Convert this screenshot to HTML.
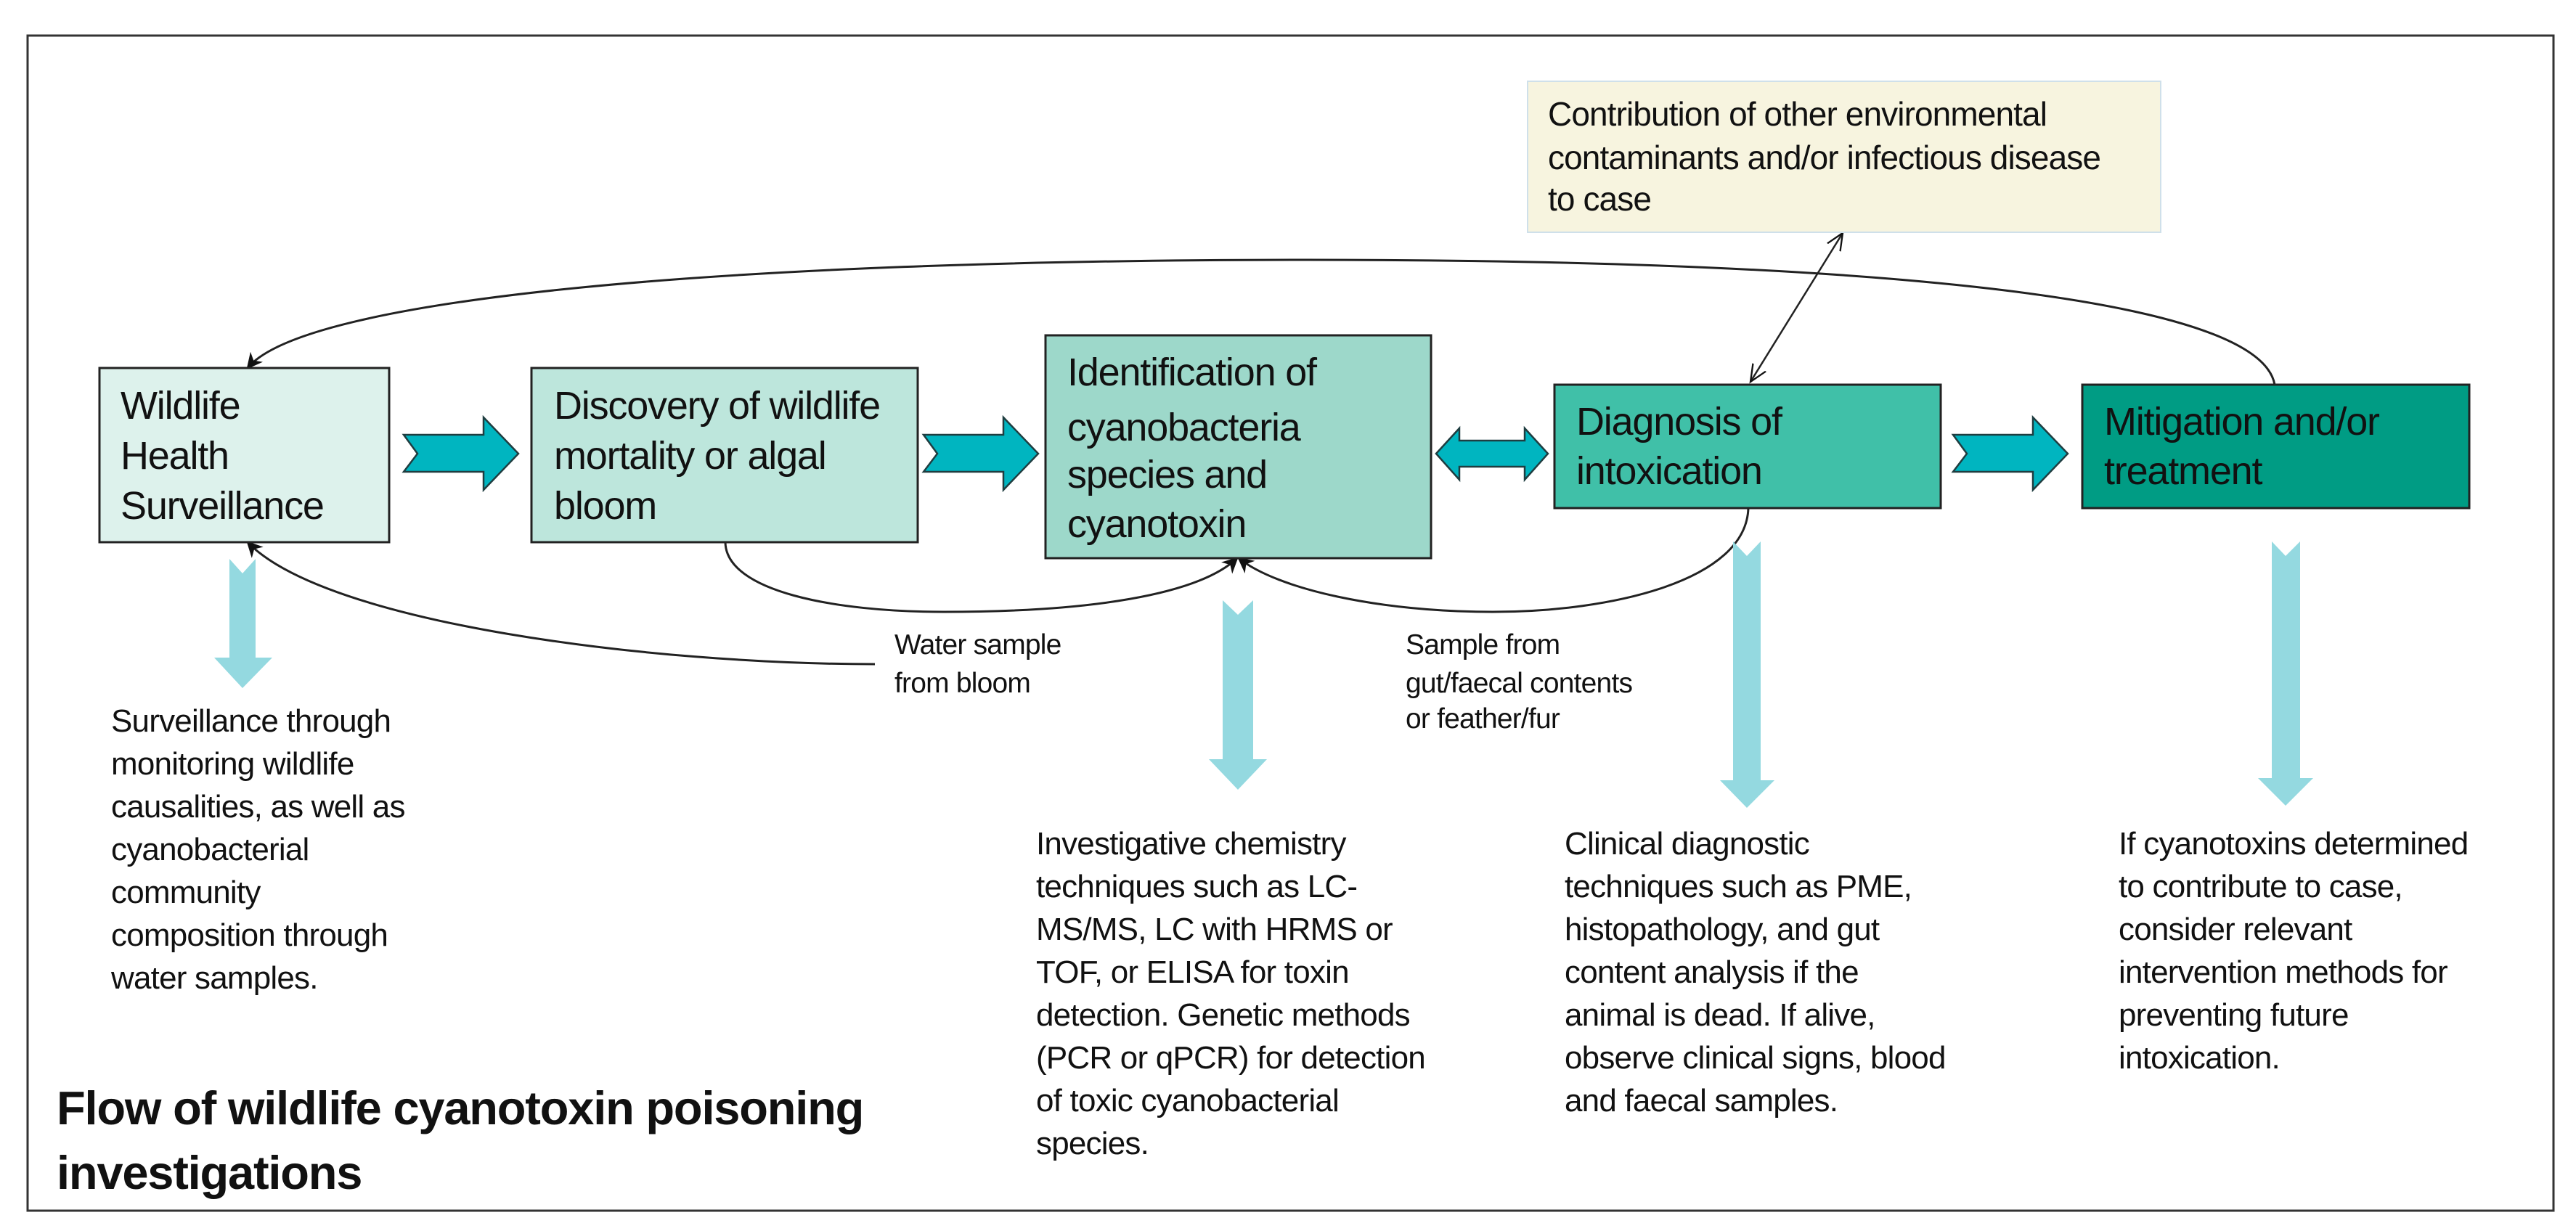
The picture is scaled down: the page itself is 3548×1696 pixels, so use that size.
<!DOCTYPE html>
<html><head><meta charset="utf-8"><style>
html,body{margin:0;padding:0;background:#fff}
svg{display:block}
text{font-family:"Liberation Sans",sans-serif;fill:#111}
.b{font-size:54px;letter-spacing:-1.2px}
.t{font-size:44px;letter-spacing:-0.8px}
.y{font-size:46px;letter-spacing:-0.9px}
.l{font-size:39px;letter-spacing:-0.8px}
.h{font-size:65px;font-weight:bold;letter-spacing:-1.2px}
</style></head><body>
<svg width="3548" height="1696" viewBox="0 0 3548 1696" xmlns="http://www.w3.org/2000/svg">
<defs>
<marker id="ah" viewBox="0 0 10 10" refX="9" refY="5" markerWidth="22" markerHeight="22" markerUnits="userSpaceOnUse" orient="auto"><path d="M0,0 L10,5 L0,10 L3,5 z" fill="#111"/></marker>
<marker id="oh" viewBox="0 0 10 10" refX="9" refY="5" markerWidth="26" markerHeight="26" markerUnits="userSpaceOnUse" orient="auto-start-reverse"><path d="M0,1 L9,5 L0,9" fill="none" stroke="#111" stroke-width="0.9"/></marker>
</defs>
<rect x="38" y="49" width="3479" height="1619" fill="#fff" stroke="#333" stroke-width="3"/>

<g fill="none" stroke="#222" stroke-width="3">
<path d="M3133 530 C3110 400 2500 358 1800 358 C1000 358 420 410 341 507" marker-end="url(#ah)"/>
<path d="M999 747 C1000 815 1150 843 1300 843 C1500 843 1650 820 1704 769" marker-end="url(#ah)"/>
<path d="M2408 700 C2405 800 2220 843 2056 843 C1900 843 1760 812 1706 769" marker-end="url(#ah)"/>
<path d="M1205 915 C900 915 450 860 341 747" marker-end="url(#ah)"/>
</g>
<line x1="2411" y1="526" x2="2538" y2="321" stroke="#222" stroke-width="2.5" marker-start="url(#oh)" marker-end="url(#oh)"/>

<rect x="2104" y="112" width="872" height="208" fill="#f7f4df" stroke="#cfe0ea" stroke-width="2"/>
<text class="y" x="2132" y="173">Contribution of other environmental</text>
<text class="y" x="2132" y="233">contaminants and/or infectious disease</text>
<text class="y" x="2132" y="290">to case</text>

<g stroke="#222" stroke-width="3">
<rect x="137" y="507" width="399" height="240" fill="#ddf2ec"/>
<rect x="732" y="507" width="532" height="240" fill="#bde6dc"/>
<rect x="1440" y="462" width="531" height="307" fill="#9dd8ca"/>
<rect x="2141" y="530" width="532" height="170" fill="#40c0a8"/>
<rect x="2868" y="530" width="533" height="170" fill="#009c84"/>
</g>
<text class="b" x="166" y="577">Wildlife</text>
<text class="b" x="166" y="646">Health</text>
<text class="b" x="166" y="715">Surveillance</text>
<text class="b" x="763" y="577">Discovery of wildlife</text>
<text class="b" x="763" y="646">mortality or algal</text>
<text class="b" x="763" y="715">bloom</text>
<text class="b" x="1470" y="531">Identification of</text>
<text class="b" x="1470" y="607">cyanobacteria</text>
<text class="b" x="1470" y="672">species and</text>
<text class="b" x="1470" y="740">cyanotoxin</text>
<text class="b" x="2171" y="599">Diagnosis of</text>
<text class="b" x="2171" y="667">intoxication</text>
<text class="b" x="2898" y="599">Mitigation and/or</text>
<text class="b" x="2898" y="667">treatment</text>

<g fill="#00b5c0" stroke="#1f3d40" stroke-width="2.5" stroke-linejoin="miter">
<polygon points="556,599 666,599 666,575 714,625 666,675 666,650 556,650 575,625"/>
<polygon points="1272,599 1382,599 1382,575 1430,625 1382,675 1382,650 1272,650 1291,625"/>
<polygon points="2690,599 2800,599 2800,575 2848,625 2800,675 2800,650 2690,650 2709,625"/>
<polygon points="1978,625 2010,590 2010,607 2100,607 2100,590 2132,625 2100,661 2100,643 2010,643 2010,661"/>
</g>

<g fill="#94d9e0">
<polygon points="316,770 334,790 352,770 352,906 375,906 334,948 295,906 316,906"/>
<polygon points="1684,827 1705,847 1726,827 1726,1046 1745,1046 1705,1088 1665,1046 1684,1046"/>
<polygon points="2387,746 2406,766 2425,746 2425,1075 2444,1075 2406,1113 2369,1075 2387,1075"/>
<polygon points="3129,746 3148,766 3168,746 3168,1072 3186,1072 3148,1110 3110,1072 3129,1072"/>
</g>

<text class="l" x="1232" y="901">Water sample</text>
<text class="l" x="1232" y="954">from bloom</text>
<text class="l" x="1936" y="901">Sample from</text>
<text class="l" x="1936" y="954">gut/faecal contents</text>
<text class="l" x="1936" y="1003">or feather/fur</text>

<text class="t" x="153" y="1008">Surveillance through</text>
<text class="t" x="153" y="1067">monitoring wildlife</text>
<text class="t" x="153" y="1126">causalities, as well as</text>
<text class="t" x="153" y="1185">cyanobacterial</text>
<text class="t" x="153" y="1244">community</text>
<text class="t" x="153" y="1303">composition through</text>
<text class="t" x="153" y="1362">water samples.</text>

<text class="t" x="1427" y="1177">Investigative chemistry</text>
<text class="t" x="1427" y="1236">techniques such as LC-</text>
<text class="t" x="1427" y="1295">MS/MS, LC with HRMS or</text>
<text class="t" x="1427" y="1354">TOF, or ELISA for toxin</text>
<text class="t" x="1427" y="1413">detection. Genetic methods</text>
<text class="t" x="1427" y="1472">(PCR or qPCR) for detection</text>
<text class="t" x="1427" y="1531">of toxic cyanobacterial</text>
<text class="t" x="1427" y="1590">species.</text>

<text class="t" x="2155" y="1177">Clinical diagnostic</text>
<text class="t" x="2155" y="1236">techniques such as PME,</text>
<text class="t" x="2155" y="1295">histopathology, and gut</text>
<text class="t" x="2155" y="1354">content analysis if the</text>
<text class="t" x="2155" y="1413">animal is dead. If alive,</text>
<text class="t" x="2155" y="1472">observe clinical signs, blood</text>
<text class="t" x="2155" y="1531">and faecal samples.</text>

<text class="t" x="2918" y="1177">If cyanotoxins determined</text>
<text class="t" x="2918" y="1236">to contribute to case,</text>
<text class="t" x="2918" y="1295">consider relevant</text>
<text class="t" x="2918" y="1354">intervention methods for</text>
<text class="t" x="2918" y="1413">preventing future</text>
<text class="t" x="2918" y="1472">intoxication.</text>

<text class="h" x="78" y="1549">Flow of wildlife cyanotoxin poisoning</text>
<text class="h" x="78" y="1638">investigations</text>
</svg>
</body></html>
